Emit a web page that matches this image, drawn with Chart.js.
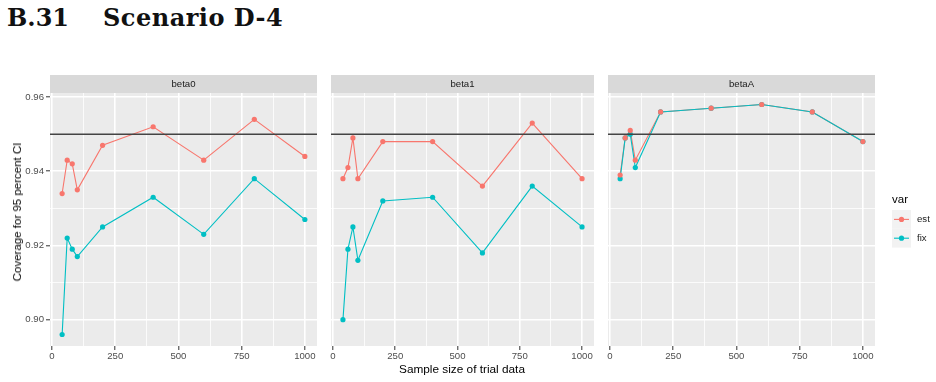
<!DOCTYPE html>
<html>
<head>
<meta charset="utf-8">
<script src="https://cdn.jsdelivr.net/npm/chart.js@4"></script>
<style>
  body { margin: 0; width: 936px; height: 382px; background: #fff; position: relative; overflow: hidden;
         font-family: "Liberation Sans", Arial, sans-serif; }
  .head { position: absolute; top: 3px; font-family: "DejaVu Serif", serif; font-weight: bold;
          font-size: 24px; color: #111; white-space: nowrap; }
  .panel { position: absolute; top: 70px; height: 312px; }
  #ytitle { position: absolute; left: 17px; top: 212px; transform: translate(-50%, -50%) rotate(-90deg);
            font-size: 11.5px; white-space: nowrap; color: #000; }
  #xtitle { position: absolute; left: 462px; top: 369px; transform: translate(-50%, -50%);
            font-size: 11.8px; white-space: nowrap; color: #000; }
</style>
</head>
<body>
<div class="head" style="left:7px">B.31</div>
<div class="head" style="left:103px;letter-spacing:0.5px">Scenario D-4</div>
<div class="panel" style="left:0px;width:321px"><canvas id="p0" width="321" height="312"></canvas></div>
<div class="panel" style="left:327px;width:271px"><canvas id="p1" width="271" height="312"></canvas></div>
<div class="panel" style="left:604px;width:332px"><canvas id="p2" width="332" height="312"></canvas></div>
<div id="ytitle">Coverage for 95 percent CI</div>
<div id="xtitle">Sample size of trial data</div>
<script>
// data
var sampleSizes = [40, 60, 80, 100, 200, 400, 600, 800, 1000];
var panelNames = ['beta0', 'beta1', 'betaA'];
var seriesNames = ['est', 'fix'];
var estBeta0 = [0.934, 0.943, 0.942, 0.935, 0.947, 0.952, 0.943, 0.954, 0.944];
var fixBeta0 = [0.896, 0.922, 0.919, 0.917, 0.925, 0.933, 0.923, 0.938, 0.927];
var estBeta1 = [0.938, 0.941, 0.949, 0.938, 0.948, 0.948, 0.936, 0.953, 0.938];
var fixBeta1 = [0.900, 0.919, 0.925, 0.916, 0.932, 0.933, 0.918, 0.936, 0.925];
var estBetaA = [0.939, 0.949, 0.951, 0.943, 0.956, 0.957, 0.958, 0.956, 0.948];
var fixBetaA = [0.938, 0.949, 0.950, 0.941, 0.956, 0.957, 0.958, 0.956, 0.948];
var xTicks = [0, 250, 500, 750, 1000];
var yTicks = [0.90, 0.92, 0.94, 0.96];
var targetCoverage = 0.95;

var estColor = '#F8766D';
var fixColor = '#00BFC4';
var fontFamily = '"Liberation Sans", Arial, sans-serif';

// ggplot style 5% expansion
function expand(values) {
    var lo = Math.min.apply(null, values), hi = Math.max.apply(null, values);
    var pad = (hi - lo) * 0.05;
    return [lo - pad, hi + pad];
}
var xRange = expand(sampleSizes);
var yRange = expand([].concat(estBeta0, fixBeta0, estBeta1, fixBeta1, estBetaA, fixBetaA));

// major + minor grid positions
function withMinor(major) {
    var all = [];
    for (var i = 0; i < major.length; i++) {
        all.push(major[i]);
        if (i < major.length - 1) all.push((major[i] + major[i + 1]) / 2);
    }
    return all;
}
var xGrid = withMinor(xTicks);
var yGrid = withMinor(yTicks);

function points(values) {
    return sampleSizes.map(function(x, i) { return {x: x, y: values[i]}; });
}

var panelDeco = {
    id: 'panelDeco',
    beforeDraw: function(chart, args, opts) {
        var a = chart.chartArea, ctx = chart.ctx;
        ctx.save();
        ctx.fillStyle = '#EBEBEB';
        ctx.fillRect(a.left, a.top, a.right - a.left, a.bottom - a.top);
        ctx.fillStyle = '#D9D9D9';
        ctx.fillRect(a.left, a.top - 18, a.right - a.left, 18);
        ctx.fillStyle = '#1A1A1A';
        ctx.font = '9.6px ' + fontFamily;
        ctx.textAlign = 'center';
        ctx.textBaseline = 'middle';
        ctx.fillText(opts.label, (a.left + a.right) / 2, a.top - 9);
        ctx.restore();
    },
    afterDatasetsDraw: function(chart) {
        var a = chart.chartArea, ctx = chart.ctx;
        var y = chart.scales.y.getPixelForValue(targetCoverage);
        ctx.save();
        ctx.strokeStyle = '#444444';
        ctx.lineWidth = 1.6;
        ctx.beginPath();
        ctx.moveTo(a.left, y);
        ctx.lineTo(a.right, y);
        ctx.stroke();
        ctx.restore();
    },
    afterDraw: function(chart, args, opts) {
        if (!opts.legend) return;
        var ctx = chart.ctx;
        var x0 = chart.chartArea.right + 17, y0 = 140, key = 18.8;
        ctx.save();
        ctx.fillStyle = '#000';
        ctx.font = '11.5px ' + fontFamily;
        ctx.textBaseline = 'middle';
        ctx.fillText('var', x0, y0 - 10);
        var colors = [estColor, fixColor];
        seriesNames.forEach(function(name, i) {
            var cy = y0 + key * i + key / 2;
            ctx.fillStyle = '#F2F2F2';
            ctx.fillRect(x0, y0 + key * i, 19, key);
            ctx.strokeStyle = colors[i];
            ctx.lineWidth = 1.1;
            ctx.beginPath();
            ctx.moveTo(x0 + 2, cy);
            ctx.lineTo(x0 + 17, cy);
            ctx.stroke();
            ctx.fillStyle = colors[i];
            ctx.beginPath();
            ctx.arc(x0 + 9.5, cy, 2.6, 0, Math.PI * 2);
            ctx.fill();
            ctx.fillStyle = '#1A1A1A';
            ctx.font = '9.6px ' + fontFamily;
            ctx.fillText(name, x0 + 25, cy);
        });
        ctx.restore();
    }
};

function createPanel(canvasId, label, est, fix, showY, legend) {
    var ctx = document.getElementById(canvasId).getContext('2d');
    return new Chart(ctx, {
        type: 'line',
        data: {
            datasets: [
                {label: 'est', data: points(est), showLine: false, pointRadius: 2.6, pointBorderWidth: 0,
                 backgroundColor: estColor, borderColor: estColor},
                {label: 'fix', data: points(fix), showLine: false, pointRadius: 2.6, pointBorderWidth: 0,
                 backgroundColor: fixColor, borderColor: fixColor},
                {label: 'fix', data: points(fix), pointRadius: 0, borderWidth: 1.1, borderColor: fixColor},
                {label: 'est', data: points(est), pointRadius: 0, borderWidth: 1.1, borderColor: estColor}
            ]
        },
        options: {
            responsive: false,
            animation: false,
            events: [],
            layout: {padding: {top: 23, left: 0, right: legend ? 61 : 0, bottom: 0}},
            plugins: {
                legend: {display: false},
                tooltip: {enabled: false},
                panelDeco: {label: label, legend: legend}
            },
            scales: {
                x: {
                    type: 'linear',
                    min: xRange[0],
                    max: xRange[1],
                    afterBuildTicks: function(s) { s.ticks = xGrid.map(function(v) { return {value: v}; }); },
                    afterFit: function(s) { s.height = 36; s.paddingLeft = 0; s.paddingRight = 0; },
                    border: {display: false},
                    grid: {
                        color: '#FFFFFF',
                        lineWidth: function(c) { return xTicks.indexOf(c.tick.value) >= 0 ? 1.6 : 0.8; },
                        tickColor: function(c) { return xTicks.indexOf(c.tick.value) >= 0 ? '#333333' : 'rgba(0,0,0,0)'; },
                        tickLength: 4,
                        tickWidth: 1
                    },
                    ticks: {
                        autoSkip: false,
                        maxRotation: 0,
                        padding: 1,
                        color: '#4D4D4D',
                        font: {family: fontFamily, size: 9.6},
                        callback: function(v) { return xTicks.indexOf(v) >= 0 ? String(v) : ''; }
                    }
                },
                y: {
                    type: 'linear',
                    min: yRange[0],
                    max: yRange[1],
                    afterBuildTicks: function(s) { s.ticks = yGrid.map(function(v) { return {value: v}; }); },
                    afterFit: function(s) { s.width = showY ? 50 : 0; s.paddingTop = 0; s.paddingBottom = 0; },
                    border: {display: false},
                    grid: {
                        color: '#FFFFFF',
                        lineWidth: function(c) { return yTicks.indexOf(c.tick.value) >= 0 ? 1.6 : 0.8; },
                        tickColor: function(c) { return yTicks.indexOf(c.tick.value) >= 0 ? '#333333' : 'rgba(0,0,0,0)'; },
                        drawTicks: showY,
                        tickLength: 4,
                        tickWidth: 1
                    },
                    ticks: {
                        display: showY,
                        autoSkip: false,
                        padding: 2,
                        color: '#4D4D4D',
                        font: {family: fontFamily, size: 9.6},
                        callback: function(v) { return yTicks.indexOf(v) >= 0 ? v.toFixed(2) : ''; }
                    }
                }
            }
        },
        plugins: [panelDeco]
    });
}

var charts = [];
charts[0] = createPanel('p0', panelNames[0], estBeta0, fixBeta0, true, false);
charts[1] = createPanel('p1', panelNames[1], estBeta1, fixBeta1, false, false);
charts[2] = createPanel('p2', panelNames[2], estBetaA, fixBetaA, false, true);
</script>
</body>
</html>
